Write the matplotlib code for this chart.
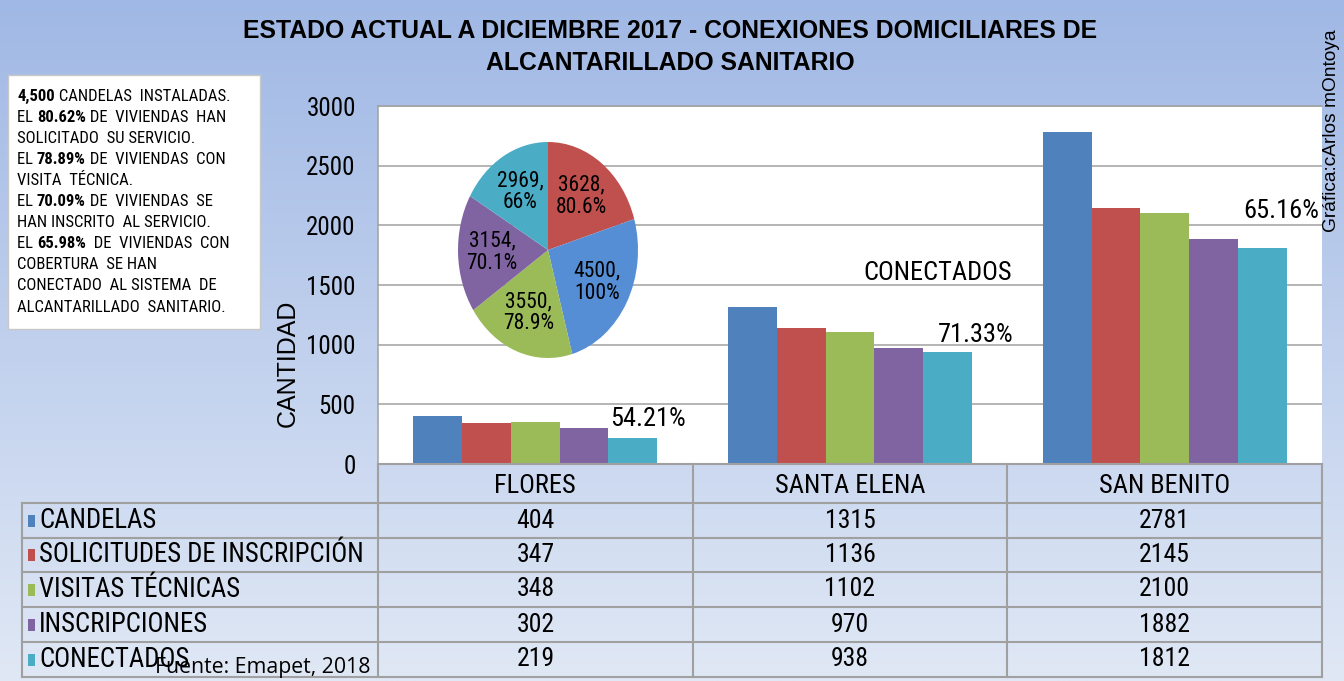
import numpy as np
import matplotlib
matplotlib.use("Agg")
import matplotlib.pyplot as plt
from matplotlib import font_manager
from matplotlib.patches import Rectangle
from matplotlib.transforms import blended_transform_factory

# look for a condensed sans font, fall back to Liberation Sans at smaller sizes
fonts = font_manager.fontManager.ttflist
names = {f.name for f in fonts}
NARROW, STRETCH, CF = "Liberation Sans", "normal", 0.87
for cand in ["Liberation Sans Narrow", "Roboto Condensed", "Open Sans Condensed"]:
    if cand in names:
        NARROW, CF = cand, 1.0
        break
else:
    if any(f.name == "DejaVu Sans" and f.stretch == "condensed" for f in fonts):
        NARROW, STRETCH, CF = "DejaVu Sans", "condensed", 0.95
REG = "Liberation Sans"

categories = ["FLORES", "SANTA ELENA", "SAN BENITO"]
series = ["CANDELAS", "SOLICITUDES DE INSCRIPCIÓN", "VISITAS TÉCNICAS", "INSCRIPCIONES", "CONECTADOS"]
candelas = [404, 1315, 2781]
solicitudes = [347, 1136, 2145]
visitas = [348, 1102, 2100]
inscripciones = [302, 970, 1882]
conectados = [219, 938, 1812]
values = [candelas, solicitudes, visitas, inscripciones, conectados]
pct_labels = ["54.21%", "71.33%", "65.16%"]

pie_values = [3628, 4500, 3550, 3154, 2969]
pie_pcts = ["80.6%", "100%", "78.9%", "70.1%", "66%"]

bar_colors = ["#4f81bd", "#c0504d", "#9bbb59", "#8064a2", "#4bacc6"]
pie_colors = ["#c0504d", "#558ed5", "#9bbb59", "#8064a2", "#4bacc6"]

note_lines = [
    [("4,500", True), (" CANDELAS  INSTALADAS.", False)],
    [("EL ", False), ("80.62%", True), (" DE  VIVIENDAS  HAN", False)],
    [("SOLICITADO  SU SERVICIO.", False)],
    [("EL ", False), ("78.89%", True), (" DE  VIVIENDAS  CON", False)],
    [("VISITA  TÉCNICA.", False)],
    [("EL ", False), ("70.09%", True), (" DE  VIVIENDAS  SE", False)],
    [("HAN INSCRITO  AL SERVICIO.", False)],
    [("EL ", False), ("65.98%", True), ("  DE  VIVIENDAS  CON", False)],
    [("COBERTURA  SE HAN", False)],
    [("CONECTADO  AL SISTEMA  DE", False)],
    [("ALCANTARILLADO  SANITARIO.", False)],
]


def nf(size):
    return dict(fontsize=size * CF, fontfamily=NARROW, fontstretch=STRETCH)


W, H = 1344, 681
fig = plt.figure(figsize=(W / 100, H / 100), dpi=100)

# background gradient
bg = fig.add_axes([0, 0, 1, 1], zorder=0)
top = np.array([160, 184, 229]) / 255
bot = np.array([224, 232, 245]) / 255
t = np.linspace(0, 1, 256)[:, None]
grad = top * (1 - t[..., None]) + bot * t[..., None]
grad = np.repeat(grad, 2, axis=1)
bg.imshow(grad, aspect="auto", extent=[0, 1, 0, 1])
bg.axis("off")

# main bar axes
x0, x1, ytop, ybot = 378, 1322, 106, 464
ax = fig.add_axes([x0 / W, (H - ybot) / H, (x1 - x0) / W, (ybot - ytop) / H], zorder=1)
ax.set_facecolor("white")
n = len(series)
bw = 0.155
xs = np.arange(len(categories))
for i, (vals, col) in enumerate(zip(values, bar_colors)):
    ax.bar(xs + (i - (n - 1) / 2) * bw, vals, bw, color=col, zorder=3)
ax.set_xlim(-0.5, 2.5)
ax.set_ylim(0, 3000)
ax.set_yticks(range(0, 3001, 500))
ax.set_yticklabels([str(v) for v in range(0, 3001, 500)], **nf(18))
ax.yaxis.grid(True, color="#a0a0a0", linewidth=1.1, zorder=0)
ax.tick_params(axis="y", length=0, pad=16)
ax.set_xticks(xs)
ax.set_xticklabels(categories, **nf(19))
ax.tick_params(axis="x", length=0, pad=7)
for s in ["left", "top", "bottom"]:
    ax.spines[s].set_color("#a0a0a0")
    ax.spines[s].set_linewidth(1.1)
ax.spines["right"].set_visible(False)
ax.set_ylabel("CANTIDAD", fontsize=18, fontfamily=REG)
ax.yaxis.set_label_coords(-0.083, 0.28)

offsets = [(11, 5), (20, 4), (14, 18)]
for k in range(len(categories)):
    xb = xs[k] + (n - 1) / 2 * bw
    ax.annotate(pct_labels[k], xy=(xb, conectados[k]), xytext=offsets[k], textcoords="offset points",
                ha="center", va="bottom", zorder=5, **nf(19))
ax.text(1.28, 1600, "CONECTADOS", ha="center", va="center", **nf(19))

# pie
cx, cy, rx, ry = 548, 250, 90, 108
pax = fig.add_axes([(cx - rx) / W, (H - cy - ry) / H, 2 * rx / W, 2 * ry / H], zorder=2)
labels = [f"{v},\n{p}" for v, p in zip(pie_values, pie_pcts)]
tp = nf(15.5)
tp.update(ha="center", va="center", linespacing=1.05)
wedges, texts = pax.pie(pie_values, colors=pie_colors, startangle=90, counterclock=False,
                        labels=labels, labeldistance=0.62, textprops=tp)
pax.set_aspect("auto")
pax.set_xlim(-1, 1)
pax.set_ylim(-1, 1)
for tx in texts:
    tx.set_horizontalalignment("center")

# overlay for text and table
ov = fig.add_axes([0, 0, 1, 1], zorder=3)
ov.set_xlim(0, W)
ov.set_ylim(H, 0)
ov.axis("off")
ov.patch.set_alpha(0)

ov.text(670, 31, "ESTADO ACTUAL A DICIEMBRE 2017 - CONEXIONES DOMICILIARES DE", ha="center", va="center",
        fontsize=17.8, fontweight="bold", fontfamily=REG)
ov.text(670, 63, "ALCANTARILLADO SANITARIO", ha="center", va="center",
        fontsize=17.8, fontweight="bold", fontfamily=REG)
ov.text(1332, 131, "Gráfica:cArlos mOntoya", rotation=90, ha="center", va="center",
        fontsize=13.8, fontfamily=REG)

# note box
ov.add_patch(Rectangle((8, 75), 252, 254, facecolor="white", edgecolor="#c8c8c8", linewidth=1))
for j, line in enumerate(note_lines):
    y = 96 + j * 21.1
    prev = None
    for txt, bold in line:
        kw = nf(12.2 / CF * 0.98 if CF == 1.0 else 10)
        kw["fontweight"] = "bold" if bold else "normal"
        if prev is None:
            prev = ov.text(17, y, txt, ha="left", va="center", **kw)
        else:
            prev = ov.annotate(txt, xy=(1, 0), xycoords=prev, ha="left", va="bottom", **kw)

# table
blend = blended_transform_factory(ax.transData, ov.transData)
lc = "#a0a0a0"
rows = [503, 538, 572, 607, 642, 677]
ov.plot([x0, x1], [464, 464], color=lc, lw=1.5)
for yy in rows:
    ov.plot([22, x1], [yy, yy], color=lc, lw=1.5)
ov.plot([22, 22], [503, 677], color=lc, lw=1.5)
for b in [-0.5, 0.5, 1.5, 2.5]:
    ov.plot([b, b], [464, 677], color=lc, lw=1.5, transform=blend)
for i, name in enumerate(series):
    yc = (rows[i] + rows[i + 1]) / 2
    ov.add_patch(Rectangle((28, yc - 6), 7, 12, facecolor=bar_colors[i], edgecolor="none"))
    ov.text(39, yc, name, ha="left", va="center", **nf(19.3))
    for k in range(len(categories)):
        ov.text(xs[k], yc, str(values[i][k]), ha="center", va="center", transform=blend, **nf(18.5))

ov.text(155, 668, "Fuente: Emapet, 2018", ha="left", va="center", fontsize=15.3, fontfamily="Open Sans")

fig.savefig("out.png", dpi=100)
